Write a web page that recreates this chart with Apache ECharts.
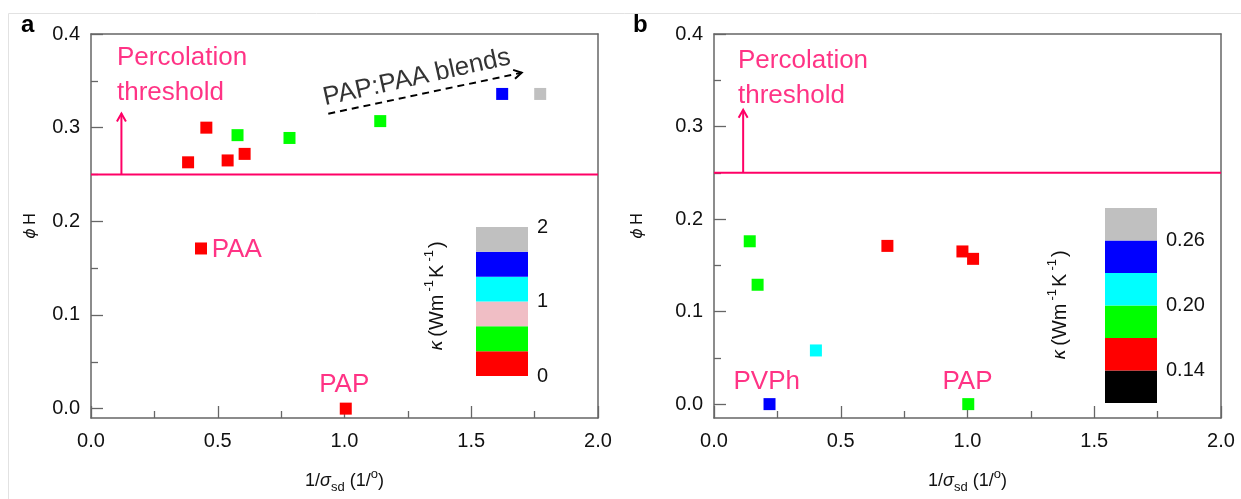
<!DOCTYPE html>
<html>
<head>
<meta charset="utf-8">
<script src="https://cdn.jsdelivr.net/npm/echarts@6/dist/echarts.min.js"></script>
<style>
html,body{margin:0;padding:0;background:#fff;}
#c{width:1241px;height:499px;}
</style>
</head>
<body>
<div id="c"></div>
<script>
// ---------- data ----------
const xTickVals = [0, 0.5, 1, 1.5, 2];
const yTickVals = [0, 0.1, 0.2, 0.3, 0.4];
const yMinorVals = [0.05, 0.15, 0.25, 0.35];

// panel a points
const aX   = [0.383, 0.455, 0.539, 0.606, 0.578, 0.783, 1.141, 1.622, 1.772, 0.434, 1.005];
const aY   = [0.263, 0.300, 0.265, 0.272, 0.292, 0.289, 0.307, 0.336, 0.336, 0.171, 0.000];
const aBin = [0, 0, 0, 0, 1, 1, 1, 4, 5, 0, 0];

// panel b points
const bX   = [0.141, 0.172, 0.402, 0.219, 0.684, 0.980, 1.022, 1.003];
const bY   = [0.176, 0.129, 0.058, 0.000, 0.171, 0.165, 0.157, 0.000];
const bBin = [2, 2, 3, 4, 1, 1, 1, 2];

// colour scales (kappa, W m^-1 K^-1)
const kappaAEdges  = [0, 1/3, 2/3, 1, 4/3, 5/3, 2];
const kappaAColors = ['#ff0000', '#00ff00', '#f0bec5', '#00ffff', '#0000ff', '#c0c0c0'];
const kappaALabels = [0, 1, 2];
const kappaBEdges  = [0.11, 0.14, 0.17, 0.20, 0.23, 0.26, 0.29];
const kappaBColors = ['#000000', '#ff0000', '#00ff00', '#00ffff', '#0000ff', '#c0c0c0'];
const kappaBLabels = [0.14, 0.20, 0.26];

const threshold = 0.25;
// arrows: [x0, y0, x1, y1]
const arrowA = [0.12, 0.25, 0.12, 0.315];
const arrowB = [0.115, 0.25, 0.115, 0.318];
const blendArrow = [0.936, 0.3148, 1.699, 0.3587];

// text annotations
const annA = [
  {text: 'Percolation\nthreshold', x: 0.1026, y: 0.356, pos: 'right', color: 'pink', rot: 0},
  {text: 'PAA', x: 0.476, y: 0.1697, pos: 'right', color: 'pink', rot: 0},
  {text: 'PAP', x: 0.999, y: 0.0259, pos: 'inside', color: 'pink', rot: 0},
  {text: 'PAP:PAA blends', x: 1.285, y: 0.3534, pos: 'inside', color: 'black', rot: 12.5}
];
const annB = [
  {text: 'Percolation\nthreshold', x: 0.0947, y: 0.352, pos: 'right', color: 'pink', rot: 0},
  {text: 'PVPh', x: 0.208, y: 0.0242, pos: 'inside', color: 'pink', rot: 0},
  {text: 'PAP', x: 1.0, y: 0.0242, pos: 'inside', color: 'pink', rot: 0}
];

// ---------- styling ----------
const FONT = 'Liberation Sans, Arial, Helvetica, sans-serif';
const PINK = '#ff0066';
const AXC = '#666666';
const TXT = '#111111';
const colorMap = {pink: PINK, black: '#000'};

const chart = echarts.init(document.getElementById('c'), null, {renderer: 'canvas'});

const grids = [
  {left: 91, top: 34, width: 507, height: 389},
  {left: 714, top: 34, width: 507, height: 389},
  {left: 476, top: 227, width: 52, height: 149},
  {left: 1105, top: 208, width: 52, height: 195}
].map(g => Object.assign({show: false, containLabel: false}, g));

const xName = {
  name: '{n|1/}{g|σ}{sub|sd}{n| (1/}{sup|o}{n|)}',
  nameLocation: 'middle', nameGap: 50,
  nameTextStyle: {
    color: TXT, fontFamily: FONT,
    rich: {
      n: {fontSize: 18, fontFamily: FONT, color: TXT, lineHeight: 26},
      g: {fontSize: 18, fontFamily: FONT, color: TXT, lineHeight: 26, fontStyle: 'italic'},
      sub: {fontSize: 13, fontFamily: FONT, color: TXT, verticalAlign: 'bottom', lineHeight: 14},
      sup: {fontSize: 13, fontFamily: FONT, color: TXT, verticalAlign: 'top', lineHeight: 14}
    }
  }
};

function mainX(gi) {
  return Object.assign({
    type: 'value', gridIndex: gi, min: 0, max: 2, interval: 0.5,
    axisLine: {show: true, onZero: false, lineStyle: {color: AXC, width: 1.5}},
    axisTick: {show: true, inside: true, length: 12, lineStyle: {color: AXC, width: 1.3}},
    minorTick: {show: true, splitNumber: 2, length: 7, lineStyle: {color: AXC, width: 1.3}},
    splitLine: {show: false}, minorSplitLine: {show: false},
    axisLabel: {fontSize: 20, fontFamily: FONT, color: TXT, margin: 13,
      formatter: v => v.toFixed(1)}
  }, xName);
}
function topX(gi) {
  return {type: 'value', gridIndex: gi, min: 0, max: 2, position: 'top',
    axisLine: {show: true, onZero: false, lineStyle: {color: AXC, width: 1.5}},
    axisTick: {show: false}, axisLabel: {show: false}, splitLine: {show: false}};
}
function mainY(gi, ymin, gap) {
  return {
    type: 'value', gridIndex: gi, min: ymin, max: 0.4,
    name: '{p|ϕ} {h|H}', nameLocation: 'middle', nameRotate: 90, nameGap: gap,
    nameTextStyle: {rich: {
      p: {fontSize: 16, fontFamily: 'DejaVu Sans, sans-serif', color: TXT, fontStyle: 'italic'},
      h: {fontSize: 16, fontFamily: FONT, color: TXT}
    }},
    axisLine: {show: true, onZero: false, lineStyle: {color: AXC, width: 1.5}},
    axisTick: {show: true, inside: true, length: 12, customValues: yTickVals, lineStyle: {color: AXC, width: 1.3}},
    splitLine: {show: false},
    axisLabel: {fontSize: 20, fontFamily: FONT, color: TXT, margin: 11,
      customValues: yTickVals, formatter: v => v.toFixed(1)}
  };
}
function minorY(gi, ymin) {
  return {
    type: 'value', gridIndex: gi, min: ymin, max: 0.4, position: 'left',
    axisLine: {show: false},
    axisTick: {show: true, inside: true, length: 7, customValues: yMinorVals, lineStyle: {color: AXC, width: 1.3}},
    axisLabel: {show: false}, splitLine: {show: false}
  };
}
function rightY(gi, ymin) {
  return {type: 'value', gridIndex: gi, min: ymin, max: 0.4, position: 'right',
    axisLine: {show: true, onZero: false, lineStyle: {color: AXC, width: 1.5}},
    axisTick: {show: false}, axisLabel: {show: false}, splitLine: {show: false}};
}
function cbarY(gi, edges, labels, fmt) {
  return {
    type: 'value', gridIndex: gi, min: edges[0], max: edges[edges.length - 1], position: 'right',
    axisLine: {show: false}, axisTick: {show: false}, splitLine: {show: false},
    axisLabel: {fontSize: 20, fontFamily: FONT, color: TXT, margin: 9,
      customValues: labels, formatter: fmt}
  };
}

function pointData(xs, ys, bins, colors) {
  return xs.map((x, i) => ({value: [x, ys[i]], itemStyle: {color: colors[bins[i]], opacity: 1}}));
}
function cbarData(edges) {
  const out = [];
  for (let i = 0; i < edges.length - 1; i++) out.push([edges[i], edges[i + 1], i]);
  return out;
}
function cbarSeries(xi, yi, edges, colors) {
  return {
    type: 'custom', xAxisIndex: xi, yAxisIndex: yi, silent: true,
    data: cbarData(edges),
    renderItem: (params, api) => {
      const p0 = api.coord([0, api.value(0)]);
      const p1 = api.coord([1, api.value(1)]);
      return {type: 'rect',
        shape: {x: p0[0], y: p1[1], width: p1[0] - p0[0], height: p0[1] - p1[1]},
        style: {fill: colors[api.value(2)], stroke: null}};
    }
  };
}
function arrowSeries(xi, yi, arr, color, dashed, width) {
  return {
    type: 'custom', xAxisIndex: xi, yAxisIndex: yi, silent: true, z: 5,
    data: [arr],
    renderItem: (params, api) => {
      const p0 = api.coord([api.value(0), api.value(1)]);
      const p1 = api.coord([api.value(2), api.value(3)]);
      const ang = Math.atan2(p1[1] - p0[1], p1[0] - p0[0]);
      const h = 9, w = Math.PI / 6;
      const a1 = [p1[0] - h * Math.cos(ang - w), p1[1] - h * Math.sin(ang - w)];
      const a2 = [p1[0] - h * Math.cos(ang + w), p1[1] - h * Math.sin(ang + w)];
      return {type: 'group', children: [
        {type: 'line', shape: {x1: p0[0], y1: p0[1], x2: p1[0], y2: p1[1]},
          style: {stroke: color, lineWidth: width, lineDash: dashed ? [7, 5] : null}},
        {type: 'polyline', shape: {points: [a1, p1, a2]},
          style: {stroke: color, lineWidth: width, fill: null}}
      ]};
    }
  };
}
function annSeries(xi, yi, anns) {
  return {
    type: 'scatter', xAxisIndex: xi, yAxisIndex: yi, symbolSize: 0, silent: true, z: 6,
    data: anns.map(a => ({
      value: [a.x, a.y],
      label: {show: true, formatter: a.text, position: a.pos, distance: 0, rotate: a.rot,
        color: colorMap[a.color], fontSize: 26, fontFamily: FONT, lineHeight: 35, align: a.pos === 'right' ? 'left' : 'center'}
    }))
  };
}
function threshSeries(xi, yi) {
  return {type: 'line', xAxisIndex: xi, yAxisIndex: yi, symbol: 'none', silent: true,
    lineStyle: {color: PINK, width: 2, opacity: 1}, data: [[0, threshold], [2, threshold]], z: 3};
}

const kappaRich = {
  k: {fontSize: 18, fontFamily: 'DejaVu Sans, sans-serif', fontStyle: 'italic', fill: TXT, lineHeight: 28},
  n: {fontSize: 20, fontFamily: FONT, fill: TXT, lineHeight: 28},
  s: {fontSize: 13, fontFamily: FONT, fill: TXT, verticalAlign: 'top', lineHeight: 14, padding: [0, 2, 0, 3]}
};

const option = {
  animation: false,
  backgroundColor: '#ffffff',
  textStyle: {fontFamily: FONT},
  grid: grids,
  xAxis: [
    mainX(0), mainX(1),
    {type: 'value', gridIndex: 2, min: 0, max: 1, show: false},
    {type: 'value', gridIndex: 3, min: 0, max: 1, show: false},
    topX(0), topX(1)
  ],
  yAxis: [
    mainY(0, -0.01, 52), mainY(1, -0.015, 68),
    minorY(0, -0.01), minorY(1, -0.015),
    cbarY(2, kappaAEdges, kappaALabels, v => String(Math.round(v))),
    cbarY(3, kappaBEdges, kappaBLabels, v => v.toFixed(2)),
    rightY(0, -0.01), rightY(1, -0.015)
  ],
  series: [
    threshSeries(0, 0), threshSeries(1, 1),
    arrowSeries(0, 0, arrowA, PINK, false, 2),
    arrowSeries(1, 1, arrowB, PINK, false, 2),
    arrowSeries(0, 0, blendArrow, '#000', true, 2),
    {type: 'scatter', xAxisIndex: 0, yAxisIndex: 0, symbol: 'rect', symbolSize: 12, z: 4,
      itemStyle: {opacity: 1}, data: pointData(aX, aY, aBin, kappaAColors)},
    {type: 'scatter', xAxisIndex: 1, yAxisIndex: 1, symbol: 'rect', symbolSize: 12, z: 4,
      itemStyle: {opacity: 1}, data: pointData(bX, bY, bBin, kappaBColors)},
    annSeries(0, 0, annA), annSeries(1, 1, annB),
    cbarSeries(2, 4, kappaAEdges, kappaAColors),
    cbarSeries(3, 5, kappaBEdges, kappaBColors)
  ],
  graphic: [
    {type: 'line', silent: true, shape: {x1: 8.5, y1: 13.5, x2: 1241, y2: 13.5}, style: {stroke: '#e2e2e2', lineWidth: 1}},
    {type: 'line', silent: true, shape: {x1: 8.5, y1: 13.5, x2: 8.5, y2: 499}, style: {stroke: '#e2e2e2', lineWidth: 1}},
    {type: 'text', silent: true, x: 21, y: 25, style: {text: 'a', fontSize: 24, fontWeight: 'bold', fontFamily: FONT, fill: '#000', align: 'left', verticalAlign: 'middle'}},
    {type: 'text', silent: true, x: 633, y: 25, style: {text: 'b', fontSize: 24, fontWeight: 'bold', fontFamily: FONT, fill: '#000', align: 'left', verticalAlign: 'middle'}},
    {type: 'text', silent: true, x: 437, y: 296, rotation: Math.PI / 2,
      style: {text: '{k|κ} {n|(Wm}{s|-1}{n|K}{s|-1}{n|)}', align: 'center', verticalAlign: 'middle', rich: kappaRich}},
    {type: 'text', silent: true, x: 1060, y: 305, rotation: Math.PI / 2,
      style: {text: '{k|κ} {n|(Wm}{s|-1}{n|K}{s|-1}{n|)}', align: 'center', verticalAlign: 'middle', rich: kappaRich}}
  ]
};
chart.setOption(option);
</script>
</body>
</html>
